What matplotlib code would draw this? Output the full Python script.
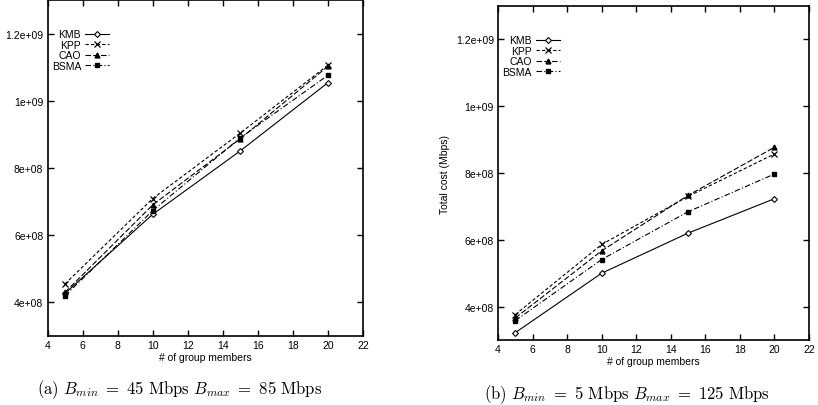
import matplotlib
matplotlib.use("Agg")
import matplotlib.pyplot as plt

# ---- data ----
x_members = [5, 10, 15, 20]
series_names = ["KMB", "KPP", "CAO", "BSMA"]

cost_a_kmb = [4.27e8, 6.62e8, 8.51e8, 1.054e9]
cost_a_kpp = [4.55e8, 7.09e8, 9.04e8, 1.106e9]
cost_a_cao = [4.30e8, 6.90e8, 8.87e8, 1.103e9]
cost_a_bsma = [4.20e8, 6.73e8, 8.90e8, 1.076e9]

cost_b_kmb = [3.22e8, 5.00e8, 6.20e8, 7.23e8]
cost_b_kpp = [3.76e8, 5.86e8, 7.30e8, 8.57e8]
cost_b_cao = [3.66e8, 5.67e8, 7.33e8, 8.77e8]
cost_b_bsma = [3.58e8, 5.41e8, 6.84e8, 7.97e8]

x_ticks = [4, 6, 8, 10, 12, 14, 16, 18, 20, 22]
y_ticks = [4e8, 6e8, 8e8, 1e9, 1.2e9]
y_tick_labels = ["4e+08", "6e+08", "8e+08", "1e+09", "1.2e+09"]

x_label = "# of group members"
y_label = "Total cost (Mbps)"
caption_a = r"$\mathrm{(a)}\ B_{min}\ =\ \mathrm{45\ Mbps}\ B_{max}\ =\ \mathrm{85\ Mbps}$"
caption_b = r"$\mathrm{(b)}\ B_{min}\ =\ \mathrm{5\ Mbps}\ B_{max}\ =\ \mathrm{125\ Mbps}$"

# ---- style ----
plt.rcParams["font.family"] = ["Liberation Sans", "DejaVu Sans"]
plt.rcParams["mathtext.fontset"] = "cm"

styles = [
    dict(ls="-", marker="D", ms=3, mfc="white", mec="black", mew=0.8),
    dict(ls=(0, (3, 2)), marker="x", ms=4.5, mew=0.9),
    dict(ls=(0, (5, 2)), marker="^", ms=3.5, mfc="black"),
    dict(ls=(0, (5, 2, 1, 2)), marker="s", ms=3, mfc="black"),
]

fig = plt.figure(figsize=(8.18, 4.06), dpi=100)

ax_a = fig.add_axes([47.5 / 818, 1 - 337 / 406, (363 - 47.5) / 818, (337 - 1) / 406])
ax_b = fig.add_axes([498 / 818, 1 - 341 / 406, (809 - 498) / 818, (341 - 7) / 406])


def draw(ax, data):
    for name, ys, st in zip(series_names, data, styles):
        ax.plot(x_members, ys, color="black", lw=0.8, label=name, **st)
    ax.set_xlim(4, 22)
    ax.set_ylim(3e8, 1.3e9)
    ax.set_xticks(x_ticks)
    ax.set_xticklabels([str(t) for t in x_ticks])
    ax.set_yticks(y_ticks)
    ax.set_yticklabels(y_tick_labels)
    ax.tick_params(direction="in", length=4, width=1.0, top=True, right=True,
                   labelsize=7.5, pad=3)
    for sp in ax.spines.values():
        sp.set_linewidth(1.2)
    ax.set_xlabel(x_label, fontsize=7.5, labelpad=1)
    ax.legend(loc="upper left", bbox_to_anchor=(0.0, 0.925), markerfirst=False,
              frameon=False, fontsize=7.5, handlelength=2.3, handletextpad=0.4,
              labelspacing=0.05, borderaxespad=0)


draw(ax_a, [cost_a_kmb, cost_a_kpp, cost_a_cao, cost_a_bsma])
draw(ax_b, [cost_b_kmb, cost_b_kpp, cost_b_cao, cost_b_bsma])
ax_b.set_ylabel(y_label, fontsize=7.5, labelpad=4)

fig.text(180 / 818, 1 - 390 / 406, caption_a, ha="center", va="center", fontsize=12)
fig.text(627 / 818, 1 - 395 / 406, caption_b, ha="center", va="center", fontsize=12)

fig.savefig("out.png", dpi=100)
